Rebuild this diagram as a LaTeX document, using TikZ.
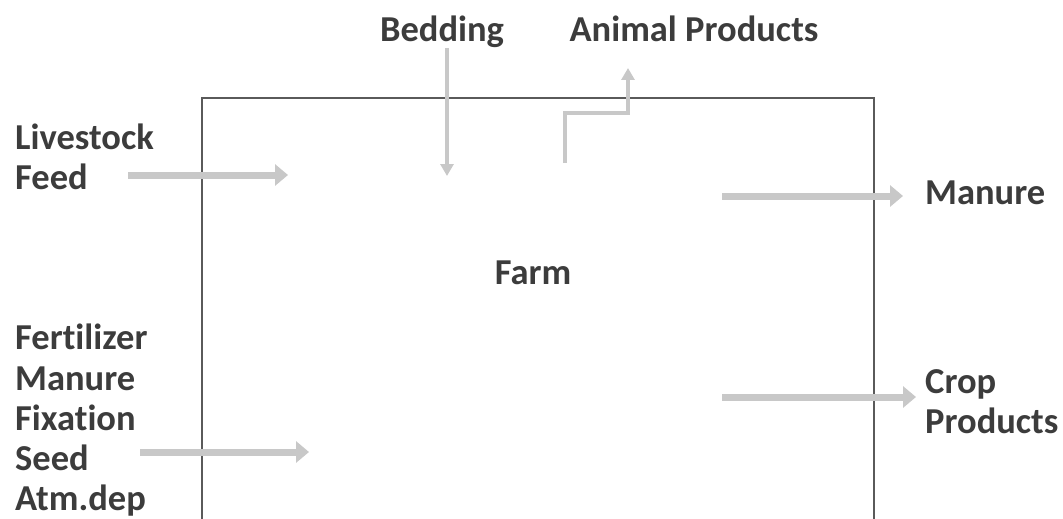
\documentclass[tikz,border=0pt]{standalone}
\usepackage{fontspec}
\setmainfont{Carlito}[Ligatures=NoCommon]
\usetikzlibrary{arrows.meta}
\definecolor{txt}{HTML}{3C3C3C}
\definecolor{boxc}{HTML}{5A5A5A}
\definecolor{flow}{HTML}{C8C8C8}
\begin{document}
\begin{tikzpicture}[x=1pt,y=-1pt,
  lbl/.style={inner sep=0pt,text=txt,font=\bfseries\fontsize{36.5}{40}\selectfont},
  flowarrow/.style={draw=flow,line width=7pt,-{Triangle[length=13pt,width=21pt]}},
  thinflow/.style={draw=flow,line width=3.5pt,-{Triangle[length=12pt,width=13pt]}}]
\useasboundingbox (0,0) rectangle (1063,519);
% farm box (open at bottom)
\coordinate (bl) at (202,522);
\coordinate (tl) at (202,98);
\coordinate (tr) at (874,98);
\coordinate (br) at (874,522);
\draw[boxc,line width=2.6pt] (bl) -- (tl) -- (tr) -- (br);
% labels
\node[lbl,anchor=base west] (live) at (15,149) {Livestock};
\node[lbl,anchor=base west] (feed) at (15,189) {Feed};
\node[lbl,anchor=base] (bed) at (442,42) {Bedding};
\node[lbl,anchor=base] (anim) at (694,42) {Animal Products};
\node[lbl,anchor=base west] (man) at (925,204) {Manure};
\node[lbl,anchor=base] (farm) at (533,284) {Farm};
\node[lbl,anchor=base west] (fert) at (15,349) {Fertilizer};
\node[lbl,anchor=base west] (manin) at (15,390) {Manure};
\node[lbl,anchor=base west] (fix) at (15,430) {Fixation};
\node[lbl,anchor=base west] (seed) at (15,470) {Seed};
\node[lbl,anchor=base west] (atm) at (15,510) {Atm.dep};
\node[lbl,anchor=base west] (crop) at (925,393) {Crop};
\node[lbl,anchor=base west] (cprod) at (925,433) {Products};
% arrow end points
\coordinate (lfA) at (128,175);
\coordinate (lfB) at (288,175);
\coordinate (bdA) at (447,48);
\coordinate (bdB) at (447,176);
\coordinate (apA) at (565,163);
\coordinate (apB) at (628,68);
\coordinate (mnA) at (722,196);
\coordinate (mnB) at (903,196);
\coordinate (fsA) at (140,452);
\coordinate (fsB) at (309,452);
\coordinate (cpA) at (722,397);
\coordinate (cpB) at (916,397);
% flows
\draw[flowarrow] (lfA) -- (lfB);
\draw[thinflow] (bdA) -- (bdB);
\draw[thinflow,line width=4.5pt] (apA) |- (628,113) -- (apB);
\draw[flowarrow] (mnA) -- (mnB);
\draw[flowarrow] (fsA) -- (fsB);
\draw[flowarrow] (cpA) -- (cpB);
\end{tikzpicture}
\end{document}
